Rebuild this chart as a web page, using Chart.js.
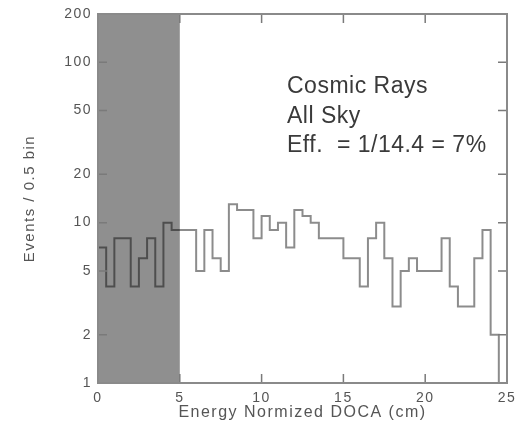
<!DOCTYPE html>
<html>
<head>
<meta charset="utf-8">
<script src="https://cdn.jsdelivr.net/npm/chart.js@4.4.1/dist/chart.umd.min.js"></script>
<style>
  html, body { margin: 0; padding: 0; background: #fff; }
  canvas { display: block; }
</style>
</head>
<body>
<canvas id="histo" width="516" height="421"></canvas>
<script>
// counts per 0.5 cm bin, 0 -> 25 cm
const binWidth = 0.5;
const counts = [
  7, 4, 8, 8, 4, 6, 8, 4, 10, 9,
  9, 9, 5, 9, 6, 5, 13, 12, 12, 8,
  11, 9, 10, 7, 12, 11, 10, 8, 8, 8,
  6, 6, 4, 8, 10, 6, 3, 5, 6, 5,
  5, 5, 8, 4, 3, 3, 6, 9, 2, 1
];
const xTicks = [0, 5, 10, 15, 20, 25];
const yTicks = [1, 2, 5, 10, 20, 50, 100, 200];
const shadeFrom = 0;
const shadeTo = 5;
const noteLines = ["Cosmic Rays", "All Sky", "Eff.  = 1/14.4 = 7%"];

const FONT = '"Liberation Sans", Arial, sans-serif';

const points = counts.map((c, i) => ({ x: i * binWidth, y: c }));
points.push({ x: counts.length * binWidth, y: counts[counts.length - 1] });

const spacing = {
  id: "spacing",
  beforeUpdate(chart) { chart.ctx.letterSpacing = "1.5px"; },
  beforeDraw(chart) { chart.ctx.letterSpacing = "1.5px"; }
};

const shade = {
  id: "shade",
  beforeDatasetsDraw(chart) {
    const { ctx, chartArea: a, scales: { x } } = chart;
    const x0 = x.getPixelForValue(shadeFrom);
    const x1 = x.getPixelForValue(shadeTo);
    ctx.save();
    ctx.fillStyle = "#8f8f8f";
    ctx.fillRect(x0, a.top, x1 - x0, a.bottom - a.top);
    ctx.restore();
  }
};

const frame = {
  id: "frame",
  afterDatasetsDraw(chart) {
    const { ctx, chartArea: a, scales: { x, y } } = chart;
    ctx.save();
    ctx.strokeStyle = "#7a7a7a";
    ctx.lineWidth = 1.5;
    ctx.beginPath();
    yTicks.forEach((v) => {
      const py = y.getPixelForValue(v);
      ctx.moveTo(a.left, py); ctx.lineTo(a.left + 9, py);
      ctx.moveTo(a.right, py); ctx.lineTo(a.right - 9, py);
    });
    xTicks.forEach((v) => {
      const px = x.getPixelForValue(v);
      ctx.moveTo(px, a.bottom); ctx.lineTo(px, a.bottom - 9);
      ctx.moveTo(px, a.top); ctx.lineTo(px, a.top + 9);
    });
    ctx.stroke();
    ctx.strokeStyle = "#8a8a8a";
    ctx.lineWidth = 2;
    ctx.strokeRect(a.left, a.top, a.right - a.left, a.bottom - a.top);
    ctx.restore();
  }
};

const notes = {
  id: "notes",
  afterDraw(chart) {
    const ctx = chart.ctx;
    const baselines = [93, 123, 152];
    ctx.save();
    ctx.letterSpacing = "0.5px";
    ctx.font = `23px ${FONT}`;
    ctx.fillStyle = "#3a3a3a";
    ctx.textAlign = "left";
    ctx.textBaseline = "alphabetic";
    noteLines.forEach((t, i) => ctx.fillText(t, 287, baselines[i]));
    ctx.restore();
  }
};

new Chart(document.getElementById("histo"), {
  type: "line",
  data: {
    datasets: [{
      data: points,
      stepped: "before",
      borderColor: "rgba(0,0,0,0.45)",
      borderWidth: 2,
      pointRadius: 0,
      fill: false
    }]
  },
  options: {
    responsive: false,
    animation: false,
    devicePixelRatio: 1,
    layout: { padding: { left: 0, right: 9, top: 14, bottom: 0 } },
    plugins: { legend: { display: false }, tooltip: { enabled: false } },
    scales: {
      x: {
        type: "linear",
        min: 0,
        max: 25,
        afterBuildTicks: (s) => { s.ticks = xTicks.map((v) => ({ value: v })); },
        afterFit: (s) => { s.height = 38; s.paddingLeft = 0; s.paddingRight = 0; },
        grid: { display: false, drawTicks: false },
        border: { display: false },
        ticks: { padding: 7, color: "#555", font: { family: FONT, size: 14 }, maxRotation: 0 },
        title: {
          display: true,
          text: "Energy Normized DOCA (cm)",
          color: "#555",
          font: { family: FONT, size: 16, lineHeight: 1 },
          padding: { top: 0, bottom: 0 }
        }
      },
      y: {
        type: "logarithmic",
        min: 1,
        max: 200,
        afterBuildTicks: (s) => { s.ticks = yTicks.map((v) => ({ value: v })); },
        afterFit: (s) => { s.width = 98; s.paddingTop = 0; s.paddingBottom = 0; },
        grid: { display: false, drawTicks: false },
        border: { display: false },
        ticks: {
          padding: 6,
          color: "#555",
          font: { family: FONT, size: 14 },
          callback: (v) => String(v)
        },
        title: {
          display: true,
          text: "Events / 0.5 bin",
          color: "#555",
          font: { family: FONT, size: 15, lineHeight: 1 },
          padding: { top: 22, bottom: 0 }
        }
      }
    }
  },
  plugins: [spacing, shade, frame, notes]
});
</script>
</body>
</html>
